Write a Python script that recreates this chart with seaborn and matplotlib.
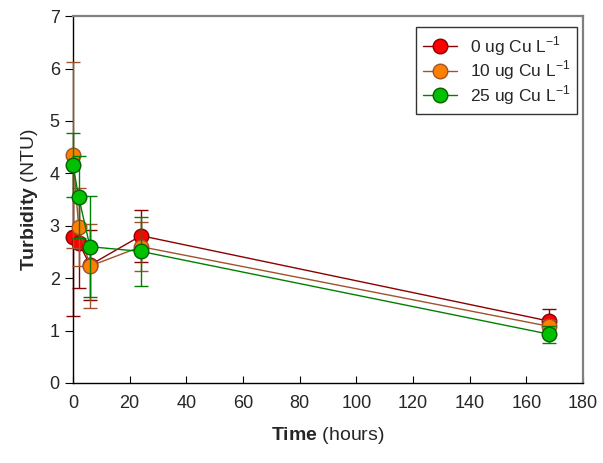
import numpy as np
import pandas as pd
import matplotlib
matplotlib.use('Agg')
import matplotlib.pyplot as plt
import seaborn as sns

# Datos
time_h = [0, 2, 6, 24, 168]
labels = ['0 ug Cu L$^{-1}$', '10 ug Cu L$^{-1}$', '25 ug Cu L$^{-1}$']
turb_0 = [2.79, 2.68, 2.25, 2.81, 1.18]
turb_10 = [4.35, 2.98, 2.23, 2.60, 1.08]
turb_25 = [4.16, 3.55, 2.60, 2.51, 0.93]
err_0 = [1.52, 0.87, 0.66, 0.50, 0.23]
err_10 = [1.78, 0.74, 0.80, 0.47, 0.12]
err_25 = [0.61, 0.78, 0.96, 0.66, 0.16]

face_colors = ['#ff0000', '#ff8000', '#00c000']
line_colors = ['#8b0000', '#a0522d', '#008000']
edge_colors = ['#8b0000', '#a0522d', '#006000']

sns.set_style('ticks')
plt.rcParams['font.family'] = ['Liberation Sans', 'DejaVu Sans']
plt.rcParams['mathtext.fontset'] = 'custom'
plt.rcParams['mathtext.rm'] = 'Liberation Sans'
plt.rcParams['mathtext.bf'] = 'Liberation Sans:bold'

fig, ax = plt.subplots(figsize=(6.03, 4.63), dpi=100)
fig.subplots_adjust(left=0.121, right=0.967, bottom=0.173, top=0.965)

series = [turb_0, turb_10, turb_25]
errors = [err_0, err_10, err_25]
for i in range(3):
    df = pd.DataFrame({'Time': time_h, 'Turbidity': series[i]})
    eb = ax.errorbar(df['Time'], df['Turbidity'], yerr=errors[i], fmt='none',
                     ecolor=line_colors[i], elinewidth=1, capsize=5, capthick=1,
                     zorder=2 + i)
    for art in eb.lines[1] + eb.lines[2]:
        art.set_clip_on(False)
    sns.lineplot(data=df, x='Time', y='Turbidity', ax=ax, color=line_colors[i],
                 lw=1, marker='o', markersize=10.5, markerfacecolor=face_colors[i],
                 markeredgecolor=edge_colors[i], markeredgewidth=1,
                 label=labels[i], zorder=3 + i, clip_on=False)

ax.set_xlim(0, 180)
ax.set_ylim(0, 7)
ax.set_xticks(np.arange(0, 181, 20))
ax.set_yticks(np.arange(0, 8, 1))
ax.tick_params(axis='x', direction='in', length=5, labelsize=13, pad=9, color='black')
ax.tick_params(axis='y', direction='out', length=6, labelsize=13, color='black')

for side in ['top', 'right']:
    ax.spines[side].set_color('#808080')
    ax.spines[side].set_linewidth(1.6)
for side in ['left', 'bottom']:
    ax.spines[side].set_color('black')
    ax.spines[side].set_linewidth(1)

ax.set_xlabel(r'$\mathbf{Time}$ (hours)', fontsize=14, labelpad=9)
ax.set_ylabel(r'$\mathbf{Turbidity}$ (NTU)', fontsize=14, labelpad=7)

leg = ax.legend(loc='upper right', fontsize=12.5, frameon=True, fancybox=False,
                edgecolor='black', handlelength=2.0, borderpad=0.4,
                labelspacing=0.05, handletextpad=0.7, borderaxespad=0,
                bbox_to_anchor=(0.988, 0.970))
leg.get_frame().set_linewidth(1)

plt.savefig('out.png', dpi=100)
